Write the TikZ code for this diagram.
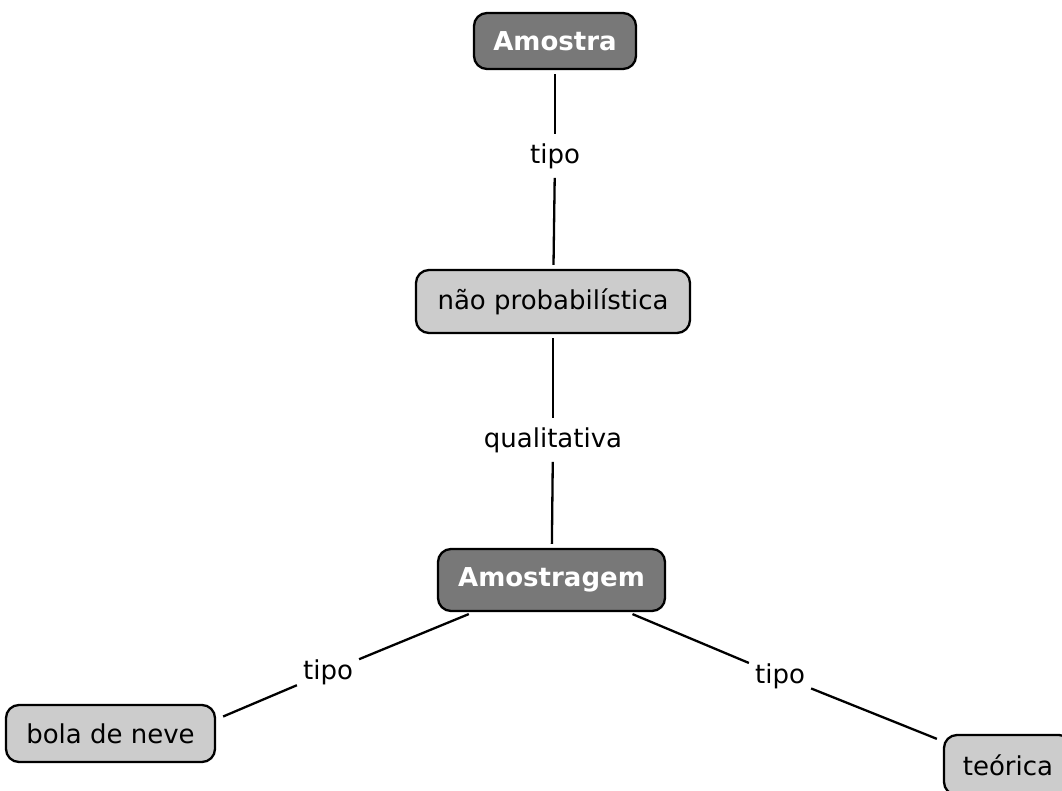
\documentclass[tikz,border=0pt]{standalone}
\usepackage{fontspec}
\setmainfont{DejaVu Sans}
\definecolor{darkbox}{HTML}{787878}
\definecolor{lightbox}{HTML}{CCCCCC}
\begin{document}
\begin{tikzpicture}[x=1pt,y=-1pt,
  concept/.style={draw=black,line width=2.3pt,rounded corners=13pt,inner sep=0pt,
    font=\fontsize{26}{30}\selectfont},
  darkc/.style={concept,fill=darkbox,text=white,font=\fontsize{26}{30}\selectfont\bfseries},
  lightc/.style={concept,fill=lightbox,text=black},
  linklab/.style={inner xsep=6pt,inner ysep=9pt,font=\fontsize{26}{30}\selectfont},
  conn/.style={line width=2.3pt,black}]
\useasboundingbox (0,0) rectangle (1062,790);
\fill[white] (0,0) rectangle (1062,790);
\node[darkc,minimum width=162pt,minimum height=56pt] (am) at (555,41) {Amostra};
\node[lightc,minimum width=274pt,minimum height=63pt] (np) at (553,301.5) {não probabilística};
\node[darkc,minimum width=227pt,minimum height=62pt] (amg) at (551.5,580) {Amostragem};
\node[lightc,minimum width=209pt,minimum height=57pt] (bola) at (110.5,733.5) {bola de neve};
\node[lightc,minimum width=128pt,minimum height=60pt] (teo) at (1008,765) {teórica};
\node[linklab] (t1) at (555,156) {tipo};
\node[linklab] (q) at (553,440) {qualitativa};
\node[linklab] (t3) at (328,672) {tipo};
\node[linklab] (t4) at (780,676) {tipo};
\path (bola.east) ++(7,-17) coordinate (b3);
\path (teo.north west) ++(-6,5) coordinate (b4);
\draw[conn,shorten <=4pt] (am) -- (t1);
\draw[conn,shorten >=4pt] (t1) -- (np);
\draw[conn,shorten <=4pt] (np) -- (q);
\draw[conn,shorten >=4pt] (q) -- (amg);
\draw[conn,shorten <=5pt] (amg) -- (t3);
\draw[conn] (t3) -- (b3);
\draw[conn,shorten <=5pt] (amg) -- (t4);
\draw[conn] (t4) -- (b4);
\end{tikzpicture}
\end{document}
